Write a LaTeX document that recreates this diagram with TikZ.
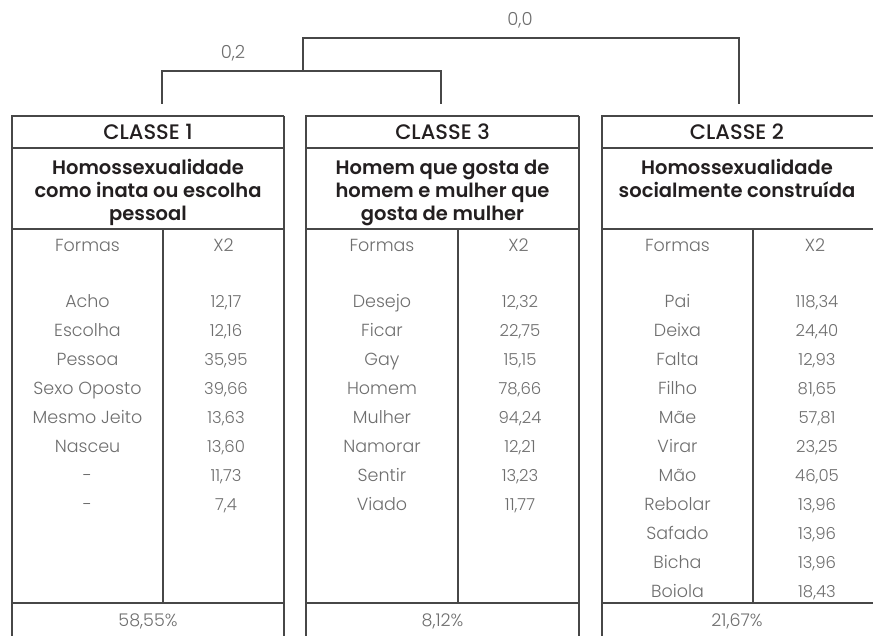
\documentclass[tikz,border=0pt]{standalone}
\usepackage{fontspec}
\setmainfont{Poppins}[UprightFont=* Light, BoldFont=* Medium]
\newfontfamily\subfont{Poppins}[UprightFont=* SemiBold]
\definecolor{linec}{HTML}{474747}
\definecolor{bodyc}{HTML}{6E6E6E}
\definecolor{headc}{HTML}{231F20}
\tikzset{
  frame/.style={draw=linec, line width=1.3pt},
  tree/.style={draw=linec, line width=1.3pt},
  head/.style={font=\fontsize{21}{24}\selectfont\bfseries, text=headc, inner sep=0pt, anchor=base},
  sub/.style={font=\fontsize{19.5}{24}\selectfont\subfont, text=headc, inner sep=0pt, anchor=base},
  cell/.style={font=\fontsize{17.5}{20}\selectfont, text=bodyc, inner sep=0pt, anchor=base},
  num/.style={font=\fontsize{16.5}{20}\selectfont, text=bodyc, inner sep=0pt, anchor=base},
}
\newcommand\tablebox[4]{%
  % #1 left, #2 divider, #3 right, #4 draw right border (1/0)
  \draw[frame] (#3,116) -- (#1,116) -- (#1,640);
  \ifnum#4=1 \draw[frame] (#3,116) -- (#3,640);\fi
  \draw[frame] (#1,148) -- (#3,148);
  \draw[frame] (#1,229) -- (#3,229);
  \draw[frame] (#1,603) -- (#3,603);
  \draw[frame] (#2,229) -- (#2,603);
}
\begin{document}
\begin{tikzpicture}[x=1pt,y=-1pt]
\useasboundingbox (0,0) rectangle (873,636);

% tables
\tablebox{12}{163}{284}{1}
\tablebox{306}{458}{579}{1}
\tablebox{602}{753}{880}{0}

% dendrogram
\coordinate (c1) at (162,104);
\coordinate (c3) at (441,104);
\coordinate (c2) at (739,104);
\coordinate (j13) at (303,71);
\coordinate (jall) at (303,38);
\draw[tree] (c1) |- (j13) -| (c3);
\draw[tree] (j13) -- (jall) -| (c2);
\node[num, font=\fontsize{18}{20}\selectfont] (l00) at (520,26) {0,0};
\node[num, font=\fontsize{18}{20}\selectfont] (l02) at (233,59) {0,2};

% CLASSE 1
\node[head] (h1) at (148,140) {CLASSE 1};
\node[sub] (s1a) at (148,174.5) {Homossexualidade};
\node[sub] (s1b) at (148,197.5) {como inata ou escolha};
\node[sub] (s1c) at (148,220.5) {pessoal};
\node[cell] (f1) at (87.5,252) {Formas};
\node[cell] (x1) at (223.5,252) {X2};
\foreach \w/\v [count=\i from 0] in {Acho/{12,17},Escolha/{12,16},Pessoa/{35,95},Sexo Oposto/{39,66},Mesmo Jeito/{13,63},Nasceu/{13,60},-/{11,73},-/{7,4}}{
  \node[cell] (a1w\i) at (87.5,308+28.9*\i) {\w};
  \node[num] (a1v\i) at (226,308+28.9*\i) {\v};
}
\node[cell] (p1) at (148,626) {58,55\%};

% CLASSE 3
\node[head] (h3) at (442.5,140) {CLASSE 3};
\node[sub] (s3a) at (442.5,174.5) {Homem que gosta de};
\node[sub] (s3b) at (442.5,197.5) {homem e mulher que};
\node[sub] (s3c) at (442.5,220.5) {gosta de mulher};
\node[cell] (f3) at (382,252) {Formas};
\node[cell] (x3) at (518.5,252) {X2};
\foreach \w/\v [count=\i from 0] in {Desejo/{12,32},Ficar/{22,75},Gay/{15,15},Homem/{78,66},Mulher/{94,24},Namorar/{12,21},Sentir/{13,23},Viado/{11,77}}{
  \node[cell] (a3w\i) at (382,308+28.9*\i) {\w};
  \node[num] (a3v\i) at (520,308+28.9*\i) {\v};
}
\node[cell] (p3) at (442.5,626) {8,12\%};

% CLASSE 2
\node[head] (h2) at (737,140) {CLASSE 2};
\node[sub] (s2a) at (737,174.5) {Homossexualidade};
\node[sub] (s2b) at (737,197.5) {socialmente construída};
\node[cell] (f2) at (677.5,252) {Formas};
\node[cell] (x2) at (815,252) {X2};
\foreach \w/\v [count=\i from 0] in {Pai/{118,34},Deixa/{24,40},Falta/{12,93},Filho/{81,65},Mãe/{57,81},Virar/{23,25},Mão/{46,05},Rebolar/{13,96},Safado/{13,96},Bicha/{13,96},Boiola/{18,43}}{
  \node[cell] (a2w\i) at (677.5,308+28.9*\i) {\w};
  \node[num] (a2v\i) at (817,308+28.9*\i) {\v};
}
\node[cell] (p2) at (737,626) {21,67\%};
\end{tikzpicture}
\end{document}
